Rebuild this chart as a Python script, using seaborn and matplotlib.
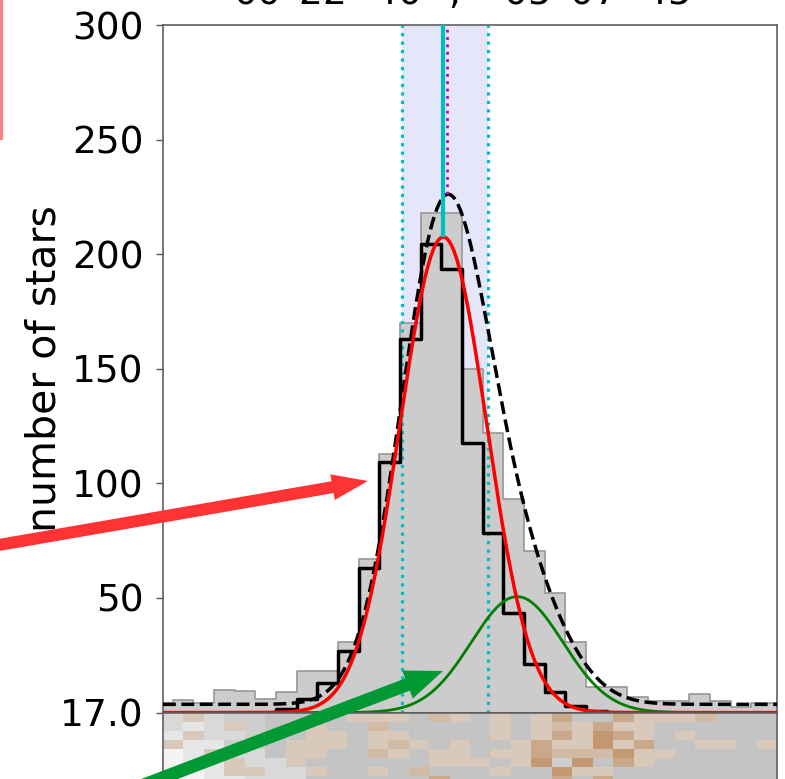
import numpy as np
import pandas as pd
import matplotlib
matplotlib.use("Agg")
import matplotlib.pyplot as plt
import seaborn as sns
from matplotlib.colors import ListedColormap
from matplotlib.patches import FancyArrow, Rectangle
from matplotlib.transforms import IdentityTransform

# ---------------- data ----------------
bin_centers = list(range(-1, 30))
all_counts = [4, 5.5, 4, 10, 9.5, 6, 9, 18, 18, 31, 67, 113, 170, 218, 218,
              150, 122, 93, 70.5, 52, 31, 11, 11, 7, 5, 5, 8, 5, 2.5, 4, 4]
member_counts = [0, 0, 0, 0, 0, 0, 1.5, 6, 13, 27, 63, 109.5, 163, 204.5, 193.5,
                 117.5, 78.5, 43.5, 21, 9, 3, 0.5, 0, 0, 0, 0, 0, 0, 0, 0, 0]

# fitted model components (amplitude, centre, sigma) and background
main_amp, main_mu, main_sig = 207.5, 12.6, 2.1
sec_amp, sec_mu, sec_sig = 50.6, 16.17, 2.22
background = 3.6
span_lo, span_hi = 10.58, 14.78
peak_line_x = 12.6
alt_line_x = 12.76

title_text = r"00$^{h}$22$^{m}$40$^{s}$ , $-$05$^{d}$07$^{m}$45$^{s}$"
y_ticks = [50, 100, 150, 200, 250, 300]
mag_label = "17.0"

heat = np.array([
    [2,5,2,3,3,4,4,4,4,5,5,5,4,6,5,4,5,4,5,7,4,4,7,5,5,5,6,4,4,4],
    [2,1,2,5,3,4,5,5,4,4,6,4,4,4,4,4,5,4,5,6,5,7,5,5,4,4,4,4,4,4],
    [1,5,2,2,3,4,4,5,5,4,5,5,4,4,4,4,5,4,5,7,5,8,7,5,4,5,4,4,4,4],
    [5,1,1,3,3,4,5,5,5,4,5,6,5,4,5,4,4,5,7,5,5,8,5,7,4,4,5,5,4,5],
    [0,1,5,2,2,4,5,5,4,4,6,5,4,5,5,4,5,5,7,6,6,6,8,5,5,4,4,4,4,4],
    [0,1,1,5,2,2,5,4,4,4,4,4,4,5,5,5,4,5,8,3,8,4,7,5,4,4,4,4,4,4],
    [0,0,1,5,5,2,2,5,4,4,5,4,6,4,4,4,5,4,4,8,5,5,4,4,4,4,4,4,4,4],
    [0,0,1,1,2,2,2,4,4,4,4,4,4,7,4,4,4,4,4,7,4,7,4,4,4,4,4,4,4,4],
    [0,0,1,1,2,2,2,4,4,4,4,4,4,7,4,4,4,4,4,7,4,7,4,4,4,4,4,4,4,4],
])
heat_colors = ["#f4f4f4", "#e6e6e6", "#d9d9d9", "#cecece", "#c4c4c4",
               "#d8c9ba", "#d1bba5", "#caa98a", "#c49870"]

# ---------------- figure ----------------
sns.set_theme(style="ticks")
plt.rcParams["font.family"] = ["DejaVu Sans"]
plt.rcParams.update({"text.color": "black", "axes.labelcolor": "black",
                     "xtick.color": "black", "ytick.color": "black"})

W, H = 785, 779
fig = plt.figure(figsize=(W / 100, H / 100), dpi=100)


def rect(x0, y0, x1, y1):
    return [x0 / W, 1 - y1 / H, (x1 - x0) / W, (y1 - y0) / H]


ax = fig.add_axes(rect(163, 25, 777, 712.6))
hax = fig.add_axes(rect(163, 712.6, 777, 793.6))

edges = [c - 0.5 for c in bin_centers] + [bin_centers[-1] + 0.5]
xlim = (-0.97, 28.75)
hist_df = pd.DataFrame({"x": bin_centers, "all": all_counts,
                        "members": member_counts})

CYAN = "#00bfbf"
MAGENTA = "#bf00bf"

ax.axvspan(span_lo, span_hi, color="#e6e6fa", zorder=0, lw=0)
sns.histplot(data=hist_df, x="x", weights="all", bins=edges, element="step",
             fill=True, facecolor="#cccccc", edgecolor="#969696",
             linewidth=1.2, alpha=1, ax=ax, zorder=1)
for xv in (span_lo, span_hi):
    ax.axvline(xv, color=CYAN, ls=":", lw=2.3, zorder=2)
sns.histplot(data=hist_df, x="x", weights="members", bins=edges,
             element="step", fill=False, color="black", linewidth=2.5,
             ax=ax, zorder=3)

xs = np.linspace(xlim[0], xlim[1], 800)
main = main_amp * np.exp(-0.5 * ((xs - main_mu) / main_sig) ** 2)
sec = sec_amp * np.exp(-0.5 * ((xs - sec_mu) / sec_sig) ** 2)
total = main + sec + background
sns.lineplot(x=xs, y=total, color="black", ls="--", lw=2.5, ax=ax, zorder=4)
sns.lineplot(x=xs, y=sec, color="green", lw=2, ax=ax, zorder=5)
sns.lineplot(x=xs, y=main, color="red", lw=2.5, ax=ax, zorder=6)

ax.vlines(peak_line_x, main_amp, 300, color=CYAN, lw=3, zorder=7)
ax.vlines(alt_line_x, total.max(), 300, color=MAGENTA, ls=":", lw=2,
          zorder=7)

ax.set_xlim(*xlim)
ax.set_ylim(0, 300)
ax.set_xticks([])
ax.set_yticks(y_ticks)
ax.set_yticklabels([str(v) for v in y_ticks])
ax.tick_params(axis="y", labelsize=27, length=5, width=1, color="#555555",
               labelcolor="black", pad=9, left=True)
ax.set_xlabel("")
ax.set_ylabel("number of stars", fontsize=29.5, color="black")
ax.yaxis.set_label_coords(-0.16, 0.5)
ax.set_title(title_text, fontsize=27, pad=14, color="black")
for s in ax.spines.values():
    s.set_color("#606060")
    s.set_linewidth(1.2)

cmap = ListedColormap(heat_colors)
sns.heatmap(heat, ax=hax, cmap=cmap, vmin=-0.5, vmax=len(heat_colors) - 0.5,
            cbar=False, xticklabels=False, yticklabels=False)
for side in ("left", "right", "top"):
    hax.spines[side].set_visible(True)
    hax.spines[side].set_color("#606060")
    hax.spines[side].set_linewidth(1.2)
hax.set_yticks([0])
hax.set_yticklabels([mag_label], rotation=0)
hax.tick_params(axis="y", labelsize=27, length=5, width=1, color="#555555",
                labelcolor="black", pad=9, left=True)
hax.set_xticks([])
hax.set_ylabel("")

# decorations in pixel coordinates
fig.add_artist(Rectangle((0, 1 - 140 / H), 3 / W, 140 / H,
                         transform=fig.transFigure, color="#ff8080", lw=0))


def arrow(tail, tip, width, hw, hl, color):
    x0, y0 = tail
    x1, y1 = tip
    a = FancyArrow(x0, H - y0, x1 - x0, -(y1 - y0), width=width, head_width=hw,
                   head_length=hl, length_includes_head=True, color=color,
                   lw=0, transform=IdentityTransform())
    fig.add_artist(a)


arrow((-30, 550), (368, 481), 12, 26, 36, "#ff3333")
arrow((120, 794), (443, 671), 13, 30, 38, "#009933")

fig.savefig("out.png", dpi=100)
